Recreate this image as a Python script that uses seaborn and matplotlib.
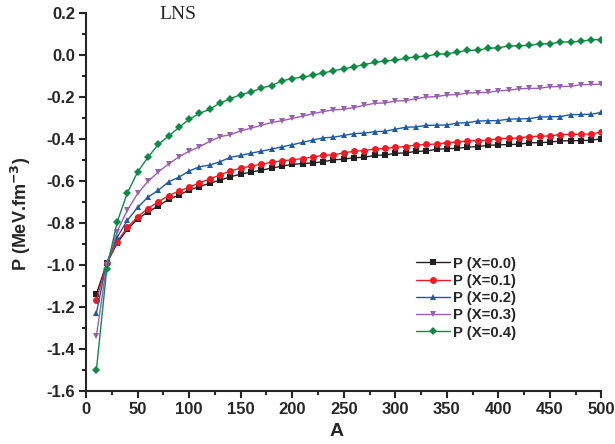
import pandas as pd
import seaborn as sns
import matplotlib.pyplot as plt
from matplotlib.ticker import MultipleLocator

# Mass number A
A = [10, 20, 30, 40, 50, 60, 70, 80, 90, 100,
     110, 120, 130, 140, 150, 160, 170, 180, 190, 200,
     210, 220, 230, 240, 250, 260, 270, 280, 290, 300,
     310, 320, 330, 340, 350, 360, 370, 380, 390, 400,
     410, 420, 430, 440, 450, 460, 470, 480, 490, 500]

# Pressure, one list per asymmetry X
p_x00 = [-1.139, -0.993, -0.898, -0.831, -0.782, -0.748, -0.720, -0.689, -0.668, -0.644,
         -0.628, -0.611, -0.597, -0.581, -0.568, -0.559, -0.549, -0.540, -0.530, -0.522,
         -0.518, -0.515, -0.509, -0.500, -0.497, -0.490, -0.488, -0.479, -0.477, -0.469,
         -0.467, -0.460, -0.458, -0.450, -0.447, -0.445, -0.440, -0.437, -0.431, -0.429,
         -0.427, -0.426, -0.419, -0.418, -0.416, -0.410, -0.409, -0.408, -0.407, -0.399]
p_x01 = [-1.168, -0.993, -0.890, -0.822, -0.771, -0.732, -0.700, -0.671, -0.649, -0.630,
         -0.610, -0.591, -0.572, -0.553, -0.540, -0.530, -0.521, -0.512, -0.505, -0.500,
         -0.494, -0.486, -0.479, -0.476, -0.467, -0.459, -0.456, -0.448, -0.446, -0.440,
         -0.437, -0.429, -0.427, -0.425, -0.418, -0.416, -0.409, -0.408, -0.407, -0.399,
         -0.398, -0.396, -0.389, -0.388, -0.386, -0.380, -0.379, -0.378, -0.377, -0.368]
p_x02 = [-1.229, -0.990, -0.870, -0.788, -0.727, -0.678, -0.645, -0.605, -0.583, -0.553,
         -0.533, -0.525, -0.509, -0.488, -0.479, -0.468, -0.459, -0.449, -0.438, -0.428,
         -0.417, -0.405, -0.396, -0.392, -0.384, -0.375, -0.373, -0.366, -0.364, -0.354,
         -0.345, -0.343, -0.336, -0.335, -0.334, -0.325, -0.323, -0.315, -0.314, -0.313,
         -0.306, -0.305, -0.304, -0.296, -0.295, -0.294, -0.285, -0.284, -0.283, -0.274]
p_x03 = [-1.340, -1.000, -0.842, -0.740, -0.660, -0.603, -0.558, -0.520, -0.486, -0.459,
         -0.438, -0.412, -0.390, -0.380, -0.362, -0.349, -0.336, -0.322, -0.314, -0.303,
         -0.292, -0.280, -0.270, -0.262, -0.259, -0.251, -0.240, -0.231, -0.229, -0.220,
         -0.218, -0.209, -0.201, -0.199, -0.191, -0.189, -0.182, -0.180, -0.179, -0.171,
         -0.169, -0.161, -0.160, -0.159, -0.152, -0.151, -0.150, -0.142, -0.141, -0.140]
p_x04 = [-1.501, -1.022, -0.798, -0.658, -0.558, -0.488, -0.427, -0.387, -0.346, -0.307,
         -0.279, -0.259, -0.229, -0.209, -0.189, -0.178, -0.158, -0.146, -0.124, -0.113,
         -0.106, -0.097, -0.086, -0.076, -0.066, -0.057, -0.046, -0.036, -0.029, -0.025,
         -0.017, -0.009, -0.006, 0.003, 0.005, 0.013, 0.021, 0.023, 0.031, 0.034,
         0.042, 0.043, 0.045, 0.052, 0.053, 0.061, 0.062, 0.064, 0.072, 0.073]

labels = ['P (X=0.0)', 'P (X=0.1)', 'P (X=0.2)', 'P (X=0.3)', 'P (X=0.4)']
colors = ['#231f20', '#ed1c24', '#1f5aa8', '#9b5fb0', '#0e8a45']
marks = ['s', 'o', '^', 'v', 'D']

df = pd.DataFrame({'A': A})
for lab, vals in zip(labels, [p_x00, p_x01, p_x02, p_x03, p_x04]):
    df[lab] = vals
df_long = pd.melt(df, id_vars=['A'], var_name='series', value_name='P')

sns.set_style('ticks')
plt.rcParams['font.family'] = ['Liberation Sans', 'DejaVu Sans']
plt.rcParams['font.weight'] = 'bold'

fig = plt.figure(figsize=(6.15, 4.44), dpi=100)
ax = fig.add_axes([0.140, 0.120, 0.838, 0.851])

sns.lineplot(data=df_long, x='A', y='P', hue='series', style='series',
             palette=colors, markers=marks, dashes=False, markersize=5,
             linewidth=1, markeredgewidth=0, ax=ax)

# diamonds and squares look a bit smaller in the original
for line in ax.get_lines():
    if line.get_marker() in ('D', 's'):
        line.set_markersize(4.5)

ax.set_xlim(0, 500)
ax.set_ylim(-1.6, 0.2)
ax.xaxis.set_major_locator(MultipleLocator(50))
ax.xaxis.set_minor_locator(MultipleLocator(25))
ax.yaxis.set_major_locator(MultipleLocator(0.2))
ax.yaxis.set_minor_locator(MultipleLocator(0.1))
ax.yaxis.set_major_formatter(plt.FuncFormatter(lambda v, p: '%.1f' % v))
ax.tick_params(which='major', direction='out', length=5, width=1.5, labelsize=12, pad=3)
ax.tick_params(which='minor', direction='out', length=3, width=1.5)
for s in ['top', 'right']:
    ax.spines[s].set_visible(False)
for s in ['left', 'bottom']:
    ax.spines[s].set_linewidth(1.5)
for t in ax.get_xticklabels() + ax.get_yticklabels():
    t.set_fontweight('bold')

ax.set_xlabel('A', fontsize=14, fontweight='bold')
ax.set_ylabel('P (MeV.fm$^{\\mathbf{-3}}$)', fontsize=13, fontweight='bold')
ax.xaxis.set_label_coords(0.486, -0.085)
ax.yaxis.set_label_coords(-0.103, 0.467)

ax.text(89, 0.19, 'LNS', family='Liberation Serif', fontsize=14,
        fontweight='normal', ha='center', va='center')

leg = ax.legend(loc='upper left', bbox_to_anchor=(0.640, 0.355), frameon=False,
                fontsize=10.7, handlelength=2.3, handletextpad=0.2,
                labelspacing=0.22, borderpad=0, borderaxespad=0)
for t in leg.get_texts():
    t.set_fontweight('bold')

fig.savefig('out.png', dpi=100)
